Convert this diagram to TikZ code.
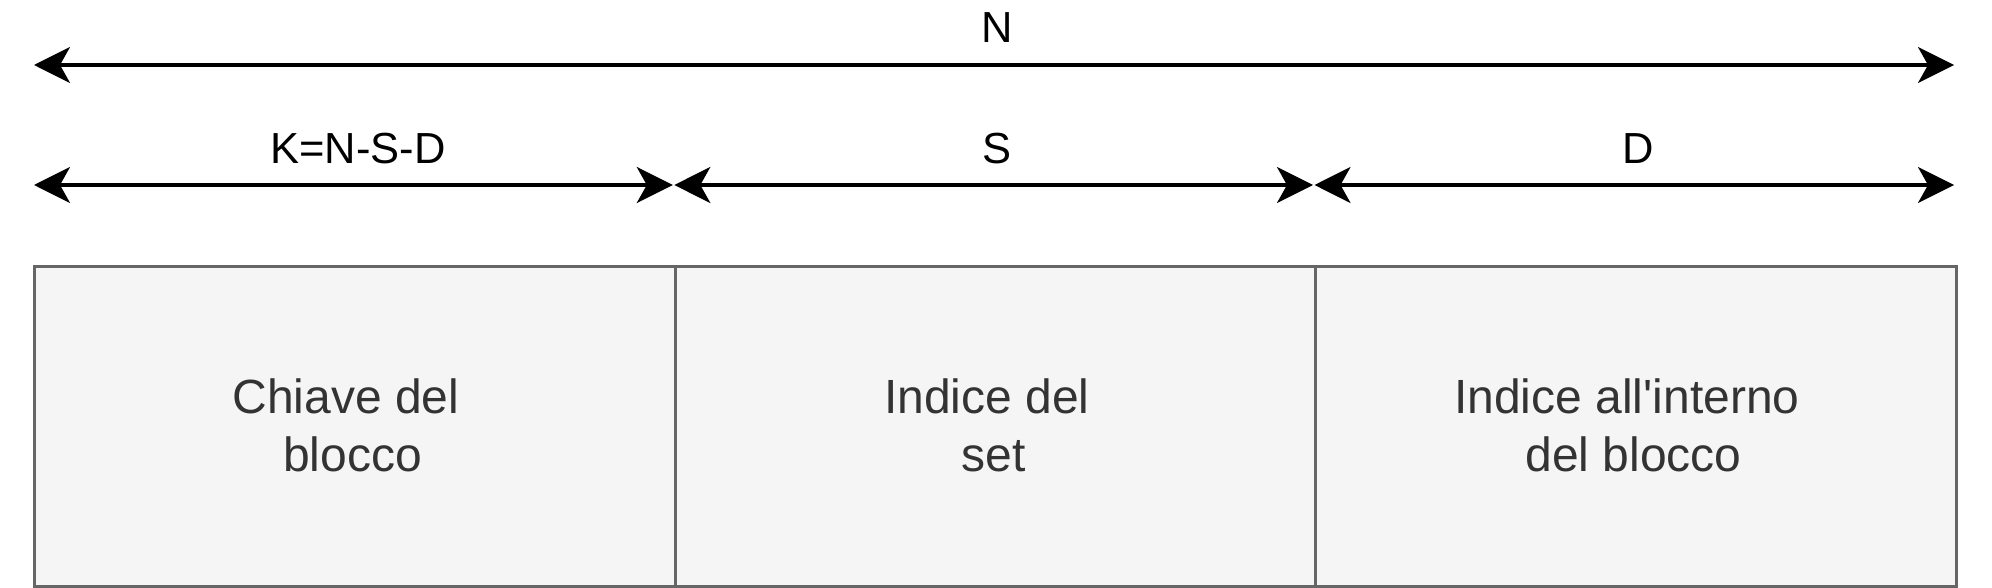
\documentclass[tikz,border=0pt]{standalone}
\usepackage{fontspec}
\setmainfont{Liberation Sans}
\usetikzlibrary{arrows.meta}
\definecolor{boxfill}{HTML}{F5F5F5}
\definecolor{boxline}{HTML}{666666}
\definecolor{boxtext}{HTML}{333333}
\begin{document}
\begin{tikzpicture}[x=0.5pt,y=-0.5pt,
  field/.style={draw=boxline, fill=boxfill, line width=1.6pt,
    minimum width=320.5pt, minimum height=160pt, inner sep=0pt, anchor=north west},
  ftext/.style={text=boxtext, inner sep=0pt, align=center, font=\fontsize{24}{29.2}\selectfont},
  dim/.style={line width=1.75pt, {Stealth[length=18pt,width=18pt,inset=5pt]}-{Stealth[length=18pt,width=18pt,inset=5pt]}},
  lbl/.style={anchor=base, inner sep=0pt, font=\fontsize{21.75}{26}\selectfont}]
\useasboundingbox (0,0) rectangle (1992,588);
\node[field] (k) at (33,265) {};
\node[field] (s) at (674,265) {};
\node[field] (d) at (1314,265) {};
\node[ftext] (kt) at ([xshift=-1.3pt,yshift=0.5pt]k.center) {Chiave del\ \null\\blocco};
\node[ftext] (st) at ([xshift=-1.3pt,yshift=0.5pt]s.center) {Indice del\ \null\\set};
\node[ftext] (dt) at ([xshift=-1.3pt,yshift=0.5pt]d.center) {Indice all\textquotesingle interno\ \null\\del blocco};
\coordinate (nL) at (34,65);
\coordinate (nR) at (1954,65);
\coordinate (a0) at (34,185);
\coordinate (a1) at (672.8,185);
\coordinate (b0) at (674.3,185);
\coordinate (b1) at (1313,185);
\coordinate (c0) at (1314.5,185);
\coordinate (c1) at (1954,185);
\draw[dim] (nL) -- (nR);
\draw[dim] (a0) -- (a1);
\draw[dim] (b0) -- (b1);
\draw[dim] (c0) -- (c1);
\node[lbl] (nlab) at (997,43) {N};
\node[lbl] (klab) at (358,164) {K=N-S-D};
\node[lbl] (slab) at (997,164) {S};
\node[lbl] (dlab) at (1638,164) {D};
\end{tikzpicture}
\end{document}
